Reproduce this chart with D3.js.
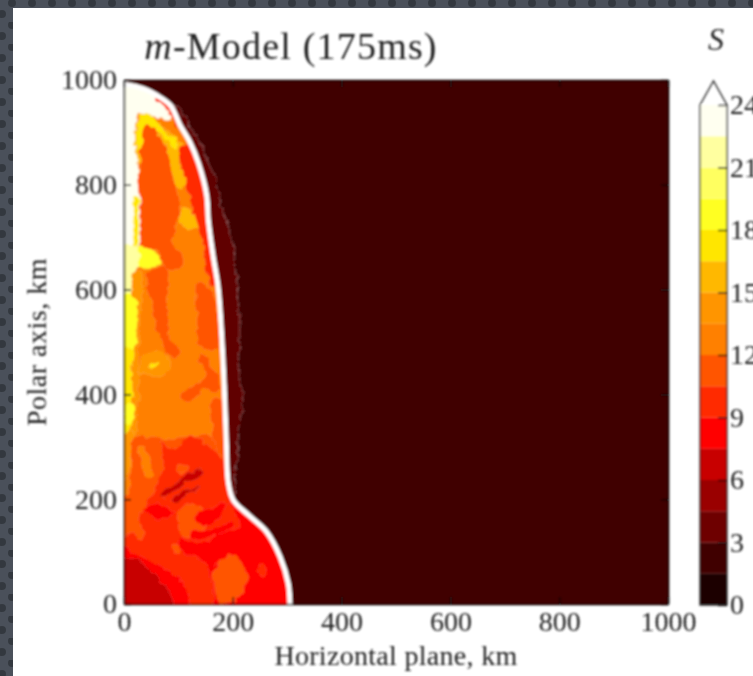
<!DOCTYPE html>
<html>
<head>
<meta charset="utf-8">
<script src="https://cdn.jsdelivr.net/npm/d3@7"></script>
<style>
html, body { margin: 0; padding: 0; background: #4a505a; overflow: hidden; }
text { font-family: "Liberation Serif", serif; fill: #222; }
</style>
</head>
<body>
<svg id="chart" width="753" height="676"></svg>
<script>
//entropy colour bands, one per 1.5 step
var levels = d3.range(0, 25.5, 1.5);
var band_colors = ['#1a0000', '#3f0000', '#6e0000', '#9a0000', '#c80000', '#ff0000', '#ff2a00', '#ff5500',
    '#ff8000', '#ff9500', '#ffb800', '#ffe600', '#ffff20', '#ffff60', '#ffffa0', '#fffff0'];
var axis_ticks = [0, 200, 400, 600, 800, 1000];
var bar_ticks = [0, 3, 6, 9, 12, 15, 18, 21, 24];

//km (horizontal, polar)
var shock_front = [[0, 992], [25, 987], [42, 981], [60, 971], [85, 952], [103, 914], [121, 882], [137, 841], [152, 780],
    [155, 733], [164, 663], [173, 605], [180, 504], [184, 421], [188, 313], [192, 230], [201, 198], [232, 167],
    [262, 138], [287, 90], [302, 39], [305, 0]];
var outer_edge = [[85, 952], [103, 946], [127, 898], [146, 866], [170, 803], [180, 758], [198, 701], [204, 644],
    [213, 561], [213, 497], [210, 472], [219, 389], [210, 319], [207, 268], [204, 224], [201, 198]];

var low_orange_red = [[-30, 205], [0, 205], [14, 249], [17, 313], [60, 319], [78, 313], [128, 322], [183, 313], [201, 198], [340, -30], [-30, -30]];
var low_stripe = [[26, 300], [36, 300], [51, 246], [42, 244]];
var low_red = [[69, 310], [94, 294], [121, 322], [140, 313], [177, 281], [192, 224], [201, 198], [340, -30], [-30, -30],
    [-30, 128], [0, 128], [14, 135], [36, 122], [29, 167], [42, 192], [60, 224], [72, 268]];
var patch_a = [[100, 173], [121, 192], [152, 173], [146, 141], [121, 128], [103, 135]];
var patch_b = [[100, 262], [118, 265], [118, 252], [100, 252]];
var patch_c = [[91, 116], [106, 109], [100, 97], [88, 100]];
var right_red = [[195, 192], [213, 148], [177, 135], [140, 116], [103, 125], [100, 106], [140, 84], [158, 59], [164, -5], [164, -30],
    [336, -30], [336, 218], [201, 205]];
var lobe = [[177, 84], [201, 94], [226, 52], [213, 14], [177, 4], [164, 46]];
var speck = [[247, 71], [259, 74], [259, 52], [250, 55]];
var base_red = [[-30, 125], [0, 111], [29, 90], [78, 65], [109, 39], [121, -5], [125, -30], [-30, -30]];
var base_core = [[-30, 95], [0, 90], [23, 84], [60, 52], [85, 20], [92, -5], [95, -30], [-30, -30]];
var filament_a = [[66, 205], [91, 230], [140, 256], [143, 249], [97, 220], [75, 202]];
var filament_b = [[88, 198], [115, 218], [140, 221], [115, 208], [94, 192]];
var filament_c = [[39, 179], [60, 192], [91, 173], [72, 164], [48, 167]];
var filament_d = [[133, 167], [164, 186], [188, 192], [177, 167], [146, 148]];
var filament_e = [[121, 138], [158, 141], [195, 157], [201, 148], [158, 128], [124, 125]];

var mid_patch = [[106, 392], [118, 383], [146, 411], [173, 405], [177, 427], [158, 459], [143, 478], [137, 466], [149, 434], [106, 402]];
var mid_strip = [[161, 389], [189, 389], [189, 281], [173, 293], [161, 338]];
var upper_band = [[42, 631], [75, 644], [82, 574], [85, 510], [103, 478], [88, 472], [60, 523], [51, 574]];
var upper_strip = [[134, 612], [152, 612], [174, 490], [140, 490], [134, 553]];
var top_amber = [[26, 919], [103, 885], [118, 809], [103, 790], [82, 815], [69, 873], [42, 911], [36, 841], [26, 841]];
var top_yellow = [[29, 933], [57, 927], [78, 898], [100, 882], [94, 866], [72, 892], [48, 911], [39, 911], [36, 860], [28, 860]];
var core_plume = [[28, 841], [42, 918], [72, 880], [90, 815], [102, 752], [94, 714], [92, 682], [108, 666], [105, 640], [75, 640], [66, 668], [28, 680]];
var amber_blob = [[103, 752], [118, 755], [140, 720], [115, 714], [106, 723]];
var shock_strip = [[103, 873], [128, 873], [155, 790], [170, 606], [161, 606], [140, 708], [118, 784]];
var cap_pale = [[-10, 1010], [91, 965], [85, 926], [57, 930], [26, 933], [26, 681], [-10, 681]];
var cap_rim = [[60, 965], [85, 946], [100, 912], [97, 910], [82, 942], [58, 962]];
var thin_yellow = [[20, 777], [25, 777], [25, 682], [20, 682]];
var side_blob = [[26, 682], [54, 672], [69, 657], [60, 647], [26, 647]];
var axis_pale = [[-10, 682], [26, 682], [26, 647], [20, 637], [20, 588], [-10, 588]];
var axis_yellow = [[-10, 586], [20, 586], [23, 523], [17, 485], [-10, 485]];
var axis_gold = [[-10, 485], [17, 485], [14, 440], [17, 376], [14, 336], [-10, 319]];
var axis_spot = [[5, 383], [17, 383], [14, 345], [5, 341]];
var axis_amber = [[20, 637], [30, 637], [28, 485], [21, 330], [14, 319], [14, 485]];
var axis_amber_low = [[-10, 319], [11, 336], [8, 249], [-10, 224]];
var mid_blob = [[29, 440], [36, 472], [66, 485], [85, 453], [60, 434], [39, 440]];
var mid_spot = [[48, 456], [63, 459], [60, 453], [48, 448]];

//paint order, first number is the colour band
var patches = [[7, low_orange_red], [8, low_stripe], [6, low_red], [7, patch_a], [7, patch_b], [7, patch_c],
    [5, right_red], [7, lobe], [6, speck], [5, base_red], [4, base_core], [4, filament_a], [4, filament_b], [5, filament_c],
    [5, filament_d], [5, filament_e], [7, mid_patch], [7, mid_strip], [7, upper_band], [7, upper_strip],
    [10, top_amber], [11, top_yellow], [7, core_plume], [10, amber_blob], [6, shock_strip], [15, cap_pale], [6, cap_rim],
    [11, thin_yellow], [12, side_blob], [14, axis_pale], [9, axis_amber], [9, axis_amber_low], [12, axis_yellow],
    [11, axis_gold], [12, axis_spot], [9, mid_blob], [11, mid_spot]];

var svg = d3.select("#chart");

//page backdrop
var defs = svg.append("defs");
var dots = defs.append("pattern").attr("id", "dots").attr("patternUnits", "userSpaceOnUse")
    .attr("width", 20).attr("height", 22);
dots.append("rect").attr("width", 20).attr("height", 22).attr("fill", "#4a505a");
dots.append("circle").attr("cx", 12).attr("cy", 3).attr("r", 4).attr("fill", "#33383f");
dots.append("circle").attr("cx", 2).attr("cy", 14).attr("r", 4).attr("fill", "#33383f");
svg.append("rect").attr("width", 753).attr("height", 676).attr("fill", "url(#dots)");
svg.append("rect").attr("x", 13).attr("y", 8).attr("width", 740).attr("height", 668).attr("fill", "#fff");

//the reference is a soft upscaled screenshot
defs.append("filter").attr("id", "soft").attr("filterUnits", "userSpaceOnUse")
    .attr("x", 0).attr("y", 0).attr("width", 753).attr("height", 676)
    .append("feGaussianBlur").attr("stdDeviation", 0.85);

//contours in the reference are rough, not smooth
var rough = defs.append("filter").attr("id", "rough").attr("filterUnits", "userSpaceOnUse")
    .attr("x", 0).attr("y", 0).attr("width", 753).attr("height", 676);
rough.append("feTurbulence").attr("type", "fractalNoise").attr("baseFrequency", 0.11).attr("numOctaves", 2)
    .attr("seed", 4).attr("result", "noise");
rough.append("feDisplacementMap").attr("in", "SourceGraphic").attr("in2", "noise").attr("scale", 8)
    .attr("xChannelSelector", "R").attr("yChannelSelector", "G");

var root = svg.append("g").attr("filter", "url(#soft)");

var x = d3.scaleLinear().domain([0, 1000]).range([124, 668]);
var y = d3.scaleLinear().domain([0, 1000]).range([604, 80]);
var bar = d3.scaleLinear().domain([0, 24]).range([605, 105]);

var poly = d3.line().x(d => x(d[0])).y(d => y(d[1]));
var blob = d3.line().x(d => x(d[0])).y(d => y(d[1])).curve(d3.curveCatmullRomClosed.alpha(0.5));
var front = d3.line().x(d => x(d[0])).y(d => y(d[1])).curve(d3.curveCatmullRom.alpha(0.5));
function closed(pts) { return poly(pts) + "Z"; }

//inside of the shock is the front plus the axis corners
var inside = [[-10, 1000]].concat(shock_front).concat([[-10, -10]]);
defs.append("clipPath").attr("id", "inner").append("path").attr("d", closed(inside));
defs.append("clipPath").attr("id", "plot").append("rect")
    .attr("x", x(0)).attr("y", y(1000)).attr("width", x(1000) - x(0)).attr("height", y(0) - y(1000));

var plot = root.append("g").attr("clip-path", "url(#plot)");
plot.append("rect").attr("x", x(0)).attr("y", y(1000)).attr("width", x(1000) - x(0)).attr("height", y(0) - y(1000))
    .attr("fill", band_colors[1]);

//band between the shock and the first contour
var band = outer_edge.concat(shock_front.slice(4, 17).reverse());
plot.append("path").attr("d", closed(band)).attr("fill", "#600000").attr("filter", "url(#rough)")
    .attr("stroke", "#b08080").attr("stroke-width", 0.8).attr("stroke-dasharray", "2 1");

var inner = plot.append("g").attr("clip-path", "url(#inner)");
inner.append("path").attr("d", closed(inside)).attr("fill", band_colors[8]);
inner.append("g").attr("filter", "url(#rough)")
    .selectAll("path.patch")
    .data(patches)
    .join("path")
    .attr("class", "patch")
    .attr("d", d => blob(d[1]))
    .attr("fill", d => band_colors[d[0]])
    .attr("stroke", "#fff")
    .attr("stroke-opacity", 0.2)
    .attr("stroke-width", 0.7);

//shock front
plot.append("path")
    .attr("d", front(shock_front))
    .attr("fill", "none")
    .attr("stroke", "#fff")
    .attr("stroke-width", 5)
    .attr("stroke-linejoin", "round");

//frame and ticks on all four sides
function styleAxis(g) {
    g.select(".domain").attr("stroke", "#111").attr("stroke-width", 1.6);
    g.selectAll(".tick line").attr("stroke", "#111").attr("stroke-width", 1.4);
    g.selectAll(".tick text").attr("font-size", 28).attr("fill", "#222").attr("font-family", "Liberation Serif");
}
var plain = d3.format("d");
root.append("g").attr("transform", "translate(0," + y(0) + ")")
    .call(d3.axisBottom(x).tickValues(axis_ticks).tickFormat(plain).tickSize(-7).tickSizeOuter(0).tickPadding(7))
    .call(styleAxis);
root.append("g").attr("transform", "translate(" + x(0) + ",0)")
    .call(d3.axisLeft(y).tickValues(axis_ticks).tickFormat(plain).tickSize(-7).tickSizeOuter(0).tickPadding(7))
    .call(styleAxis);
root.append("g").attr("transform", "translate(0," + y(1000) + ")")
    .call(d3.axisTop(x).tickValues(axis_ticks).tickSize(-7).tickSizeOuter(0).tickFormat(""))
    .call(styleAxis);
root.append("g").attr("transform", "translate(" + x(1000) + ",0)")
    .call(d3.axisRight(y).tickValues(axis_ticks).tickSize(-7).tickSizeOuter(0).tickFormat(""))
    .call(styleAxis);

//titles
var title = root.append("text").attr("x", 291).attr("y", 59).attr("text-anchor", "middle")
    .attr("font-size", 38).attr("letter-spacing", 1.2);
title.append("tspan").attr("font-style", "italic").text("m");
title.append("tspan").text("-Model (175ms)");
root.append("text").attr("x", 396).attr("y", 665).attr("text-anchor", "middle").attr("font-size", 28)
    .attr("letter-spacing", 0.3).text("Horizontal plane, km");
root.append("text").attr("transform", "translate(46,342) rotate(-90)").attr("text-anchor", "middle").attr("font-size", 28)
    .attr("letter-spacing", 0.5).text("Polar axis, km");
root.append("text").attr("x", 716).attr("y", 50).attr("text-anchor", "middle").attr("font-size", 32)
    .attr("font-style", "italic").text("S");

//colour bar
var bar_x0 = 700, bar_x1 = 727;
root.selectAll("rect.band")
    .data(band_colors)
    .join("rect")
    .attr("class", "band")
    .attr("x", bar_x0)
    .attr("width", bar_x1 - bar_x0)
    .attr("y", (d, i) => bar(levels[i + 1]))
    .attr("height", (d, i) => bar(levels[i]) - bar(levels[i + 1]))
    .attr("fill", d => d);
root.append("path")
    .attr("d", "M" + bar_x0 + "," + bar(0) + "V" + bar(24) + "L" + ((bar_x0 + bar_x1) / 2) + "," + (bar(24) - 24) + "L" + bar_x1 + "," + bar(24) + "V" + bar(0) + "Z")
    .attr("fill", "none")
    .attr("stroke", "#333")
    .attr("stroke-width", 1.4);
root.append("g").attr("transform", "translate(" + bar_x1 + ",0)")
    .call(d3.axisRight(bar).tickValues(bar_ticks).tickSize(-9).tickSizeOuter(0).tickPadding(3))
    .call(styleAxis)
    .call(g => g.select(".domain").remove());
</script>
</body>
</html>
